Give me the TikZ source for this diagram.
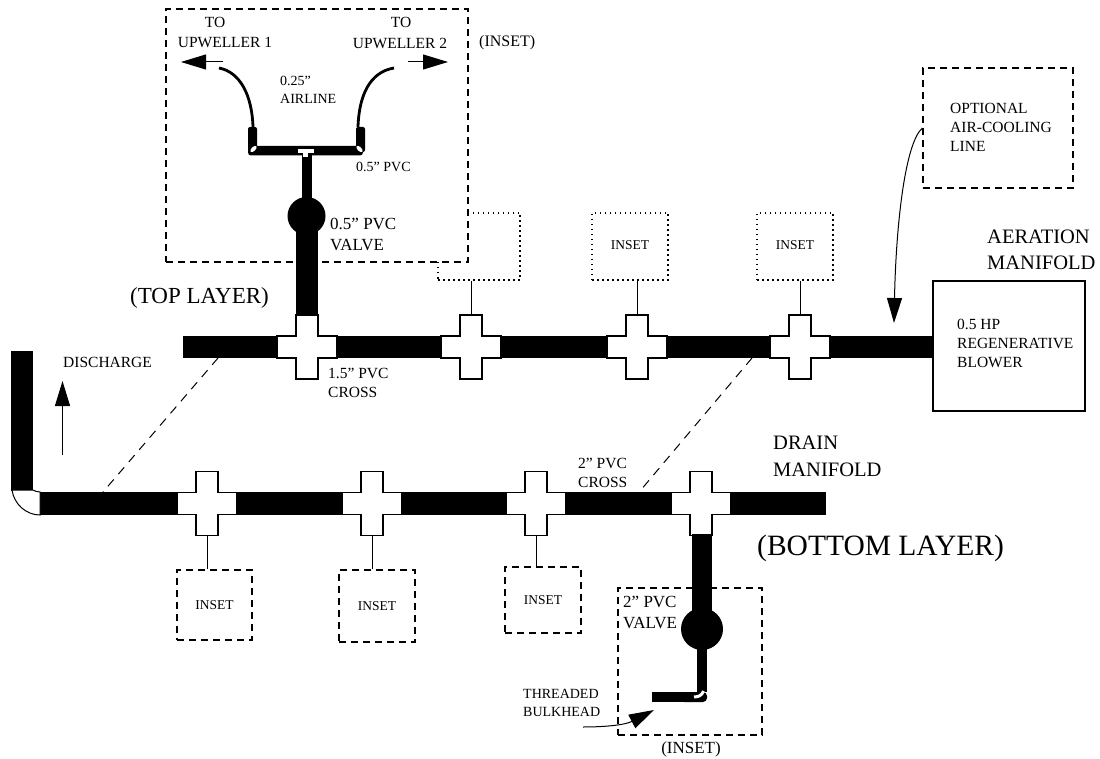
\documentclass[tikz,border=0pt]{standalone}
\usepackage{fontspec}
\setmainfont{Liberation Serif}
\usepackage{tikz}
\usetikzlibrary{arrows.meta,calc,positioning}

\tikzset{
  smalltxt/.style={font=\fontsize{14}{18}\selectfont,align=left,inner sep=0pt,anchor=west},
  midtxt/.style={font=\fontsize{15.5}{19}\selectfont,align=left,inner sep=0pt,anchor=west},
  bigtxt/.style={font=\fontsize{17}{21}\selectfont,align=left,inner sep=0pt,anchor=west},
  headtxt/.style={font=\fontsize{20.5}{26.5}\selectfont,align=left,inner sep=0pt,anchor=west},
  layertxt/.style={font=\fontsize{23}{28}\selectfont,inner sep=0pt,anchor=west},
  insetbox/.style={draw,dash pattern=on 7pt off 5pt,line width=1.2pt,font=\fontsize{13.5}{16}\selectfont,inner sep=0pt},
  dotbox/.style={draw,dash pattern=on 1.5pt off 3.5pt,line width=1.2pt,font=\fontsize{13.5}{16}\selectfont,inner sep=0pt},
  crossarm/.style={draw,line width=1.2pt,fill=white,inner sep=0pt},
  valvebody/.style={circle,fill=black,inner sep=0pt},
  flowline/.style={-{Triangle[length=25pt,width=15pt]},line width=1pt},
  stemline/.style={line width=1pt},
  linkline/.style={dash pattern=on 9pt off 7pt,line width=1pt}
}

\begin{document}
\begin{tikzpicture}[x=1pt,y=-1pt]
  \useasboundingbox (0,0) rectangle (1100,759);

  % inset boxes, top layer
  \node[dotbox,minimum width=82pt,minimum height=67pt] (insT1) at (479,246.5) {};
  \node[dotbox,minimum width=76pt,minimum height=67pt] (insT2) at (630,246.5) {\raisebox{3pt}{INSET}};
  \node[dotbox,minimum width=76pt,minimum height=67pt] (insT3) at (795,246.5) {\raisebox{2pt}{INSET}};
  \node[insetbox,fill=white,minimum width=302pt,minimum height=253pt] (insMain) at (317,135.5) {};
  \node[insetbox,minimum width=150pt,minimum height=120pt] (insCool) at (998,128) {};

  % inset boxes, bottom layer
  \node[insetbox,minimum width=75pt,minimum height=70pt] (insB1) at (214.5,605) {INSET};
  \node[insetbox,minimum width=76pt,minimum height=72pt] (insB2) at (377,606) {INSET};
  \node[insetbox,minimum width=76pt,minimum height=66pt] (insB3) at (543,600) {INSET};
  \node[insetbox,minimum width=144pt,minimum height=147pt] (insValve) at (690,661.5) {};

  % manifolds
  \fill (183,336) rectangle (934,358);
  \fill (40,492) rectangle (826,515);
  \fill (11,351) rectangle (33,491);
  \draw[line width=1pt,fill=white] (12,490) .. controls (14,504) and (26,515) .. (40,515) -- (40,492) .. controls (37,492) and (35,491) .. (33,490) -- cycle;

  \node[draw,line width=1.2pt,fill=white,minimum width=152pt,minimum height=130pt] (blower) at (1009,346) {};

  % crosses
  \foreach \crossname/\cx/\cy in {tc1/307/347,tc2/471/347,tc3/637/347,tc4/800/347,bc1/207/503.5,bc2/372/503.5,bc3/536/503.5,bc4/701/503.5} {
    \node[crossarm,minimum width=22pt,minimum height=64pt] (\crossname v) at (\cx,\cy) {};
    \node[crossarm,minimum width=60pt,minimum height=22pt] (\crossname h) at (\cx,\cy) {};
    \fill[white] (\cx-10.4,\cy-12) rectangle (\cx+10.4,\cy+12);
  }

  % stems to the insets
  \draw[stemline] (insT1.south -| tc2v.north) -- (tc2v.north);
  \draw[stemline] (insT2.south -| tc3v.north) -- (tc3v.north);
  \draw[stemline] (insT3.south -| tc4v.north) -- (tc4v.north);
  \draw[stemline] (bc1v.south) -- (insB1.north -| bc1v.south);
  \draw[stemline] (bc2v.south) -- (insB2.north -| bc2v.south);
  \draw[stemline] (bc3v.south) -- (insB3.north -| bc3v.south);

  % layer links
  \coordinate (linkA) at (218,358);
  \coordinate (linkB) at (103,492);
  \coordinate (linkC) at (752,358);
  \coordinate (linkD) at (640,491);
  \draw[linkline] (linkA) -- (linkB);
  \draw[linkline] (linkC) -- (linkD);

  % aeration valve and tee
  \node[valvebody,minimum size=38pt] (valveT) at (306.5,216) {};
  \node[inner sep=0pt] (teeT) at (306.5,150) {};
  \draw[line width=22pt] (tc1v.north -| valveT.center) -- (valveT.center);
  \draw[line width=10pt] (valveT.center) -- (teeT.center);
  \fill[rounded corners=3pt] (248,146) rectangle (363,155.5);
  \fill[rounded corners=2pt] (248,127) rectangle (257,152);
  \fill[rounded corners=2pt] (356,127) rectangle (365,152);
  \fill[white] (298,149) rectangle (314,153);
  \fill[white] (303,153) rectangle (308,157);
  \fill[white,rotate around={45:(253.5,149)}] (253.5,149) ellipse (4pt and 2pt);
  \fill[white,rotate around={-45:(359.5,149)}] (359.5,149) ellipse (4pt and 2pt);

  % airlines
  \coordinate (airL) at (219,68);
  \coordinate (airR) at (394,68);
  \coordinate (stubL) at (253,127);
  \coordinate (stubR) at (358,127);
  \draw[line width=2.8pt] (airL) .. controls (240,72) and (252,95) .. (stubL);
  \draw[line width=2.8pt] (airR) .. controls (370,72) and (359,95) .. (stubR);
  \coordinate (toL) at (223,62);
  \coordinate (tipL) at (181,62);
  \coordinate (toR) at (408,62);
  \coordinate (tipR) at (448,62);
  \draw[flowline] (toL) -- (tipL);
  \draw[flowline] (toR) -- (tipR);

  % drain valve and bulkhead
  \node[valvebody,minimum size=42pt] (valveB) at (702,629) {};
  \coordinate (elbowB) at (702,692);
  \draw[line width=20pt] (valveB.center |- bc4v.south) ++(0,-2) -- (valveB.center);
  \draw[line width=10pt] (valveB.center) -- (elbowB);
  \fill[rounded corners=4pt] (680,692) -- (707,692) -- (707,702) -- (680,702) -- cycle;
  \fill (652,692) rectangle (690,702);
  \draw[white,line width=3pt] (694,697) .. controls (699,697) and (702,695) .. (703.5,691);

  % pointers
  \coordinate (dischA) at (62.5,455);
  \coordinate (dischB) at (62.5,381);
  \draw[flowline] (dischA) -- (dischB);
  \coordinate (coolTip) at (894,323);
  \draw[flowline] (insCool.west) .. controls (905,143) and (896,225) .. (coolTip);
  \coordinate (threadA) at (583,727);
  \coordinate (threadB) at (654,710);
  \draw[flowline] (threadA) .. controls (605,727) and (625,725) .. (threadB);

  % labels
  \node[midtxt,anchor=center] (lblToA) at (215,22) {TO};
  \node[midtxt,anchor=center] (lblUpA) at (225,43) {UPWELLER 1};
  \node[midtxt,anchor=center] (lblToB) at (401,22) {TO};
  \node[midtxt,anchor=center] (lblUpB) at (400,43) {UPWELLER 2};
  \node[midtxt,font=\fontsize{16}{18}\selectfont] (lblInsA) at (479,43) {(INSET)};
  \node[smalltxt] (lblAir) at (280,89.5) {0.25''\\AIRLINE};
  \node[smalltxt] (lblPvcA) at (356,167) {0.5'' PVC};
  \node[bigtxt] (lblValveA) at (330,234.5) {0.5'' PVC\\VALVE};
  \node[layertxt] (lblTop) at (130,298) {(TOP LAYER)};
  \node[midtxt] (lblDisch) at (63,362) {DISCHARGE};
  \node[midtxt] (lblCrossA) at (328,382.5) {1.5'' PVC\\CROSS};
  \node[midtxt] (lblCrossB) at (578,472.5) {2'' PVC\\CROSS};
  \node[headtxt] (lblDrain) at (773,456.5) {DRAIN\\MANIFOLD};
  \node[layertxt,font=\fontsize{29.5}{30}\selectfont] (lblBottom) at (757,548) {(BOTTOM LAYER)};
  \node[bigtxt] (lblValveB) at (623,612) {2'' PVC\\VALVE};
  \node[smalltxt] (lblThread) at (523,702.5) {THREADED\\BULKHEAD};
  \node[bigtxt,anchor=center] (lblInsB) at (691,749) {(INSET)};
  \node[midtxt] (lblCool) at (950,127.5) {OPTIONAL\\AIR-COOLING\\LINE};
  \node[midtxt] (lblBlower) at (957,343) {0.5 HP\\REGENERATIVE\\BLOWER};
  \node[headtxt] (lblAer) at (987,250) {AERATION\\MANIFOLD};
\end{tikzpicture}
\end{document}
